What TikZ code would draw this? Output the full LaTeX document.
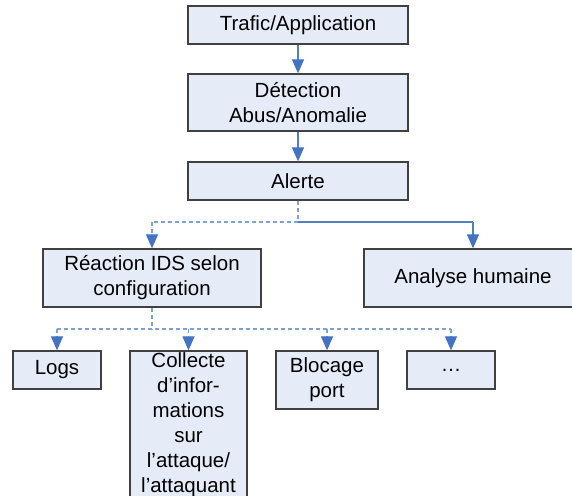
\documentclass[tikz,border=0pt]{standalone}
\usepackage{fontspec}
\setmainfont{Liberation Sans}
\usetikzlibrary{arrows.meta}

\definecolor{boxfill}{HTML}{E6ECF7}
\definecolor{boxline}{HTML}{404040}
\definecolor{flowline}{HTML}{4F81BD}
\definecolor{dashline}{HTML}{7EA1D3}
\definecolor{tipcol}{HTML}{4472C4}

\tikzset{
  block/.style={draw=boxline, fill=boxfill, line width=1.3pt, inner sep=0pt,
    align=center, font=\fontsize{20.5}{25}\selectfont},
  link/.style={draw=flowline, line width=1.2pt},
  dlink/.style={draw=dashline, line width=1.2pt, dash pattern=on 4pt off 3pt},
  tip/.style={-{Triangle[width=12pt,length=14pt,color=tipcol,fill=tipcol]}}
}

\begin{document}
\begin{tikzpicture}[x=1pt, y=-1pt]
\useasboundingbox (0,0) rectangle (572,495);
\clip (0,0) rectangle (572,495);

% chain at the top
\node[block, minimum width=220, minimum height=38] (trafic) at (298,25) {Trafic/Application};
\node[block, minimum width=220, minimum height=57] (detect) at (298,102.5) {Détection\\Abus/Anomalie};
\node[block, minimum width=220, minimum height=38] (alerte) at (298,181) {Alerte};

% second level
\node[block, minimum width=218, minimum height=58] (reaction) at (152,278) {Réaction IDS selon\\configuration};
\node[block, minimum width=218, minimum height=58] (analyse) at (473,278) {Analyse humaine};

% reactions
\node[block, minimum width=88, minimum height=38] (logs) at (57,370) {Logs};
\node[block, minimum width=117, minimum height=147] (collecte) at (188.5,424.5)
  {Collecte\\d’infor-\\mations\\sur\\l’attaque/\\l’attaquant};
\node[block, minimum width=102, minimum height=58] (blocage) at (327,380) {Blocage\\port};
\node[block, minimum width=88, minimum height=38] (dots) at (451,370) {…};

\coordinate (split1) at (298,222);
\coordinate (split2) at (152,329);

\draw[link, tip] (trafic) -- (detect);
\draw[link, tip] (detect) -- (alerte);

\draw[dlink] (alerte) -- (split1);
\draw[dlink] (split1) -- (reaction |- split1);
\draw[dlink, tip] (reaction |- split1) -- (reaction);
\draw[link] (split1) -- (analyse |- split1);
\draw[link, tip] (analyse |- split1) -- (analyse);

\draw[dlink] (reaction) -- (split2);
\draw[dlink] (logs |- split2) -- (dots |- split2);
\foreach \b in {logs,collecte,blocage,dots}
  \draw[dlink, tip] (\b |- split2) -- (\b);
\end{tikzpicture}
\end{document}
